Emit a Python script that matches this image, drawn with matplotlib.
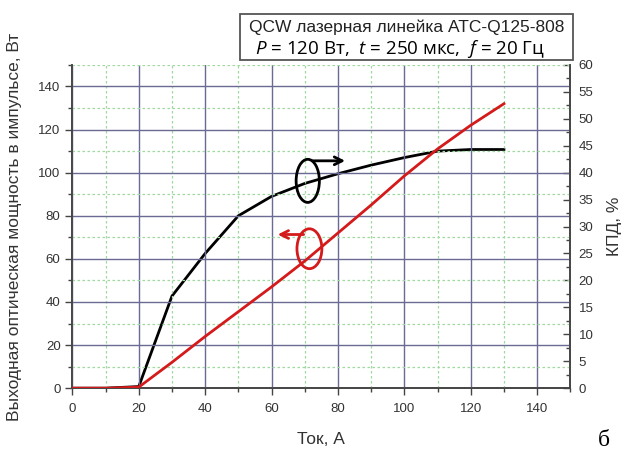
import matplotlib.pyplot as plt
from matplotlib.patches import Ellipse, Rectangle
from matplotlib.ticker import MultipleLocator

plt.rcParams['font.family'] = ['Liberation Sans', 'DejaVu Sans']
plt.rcParams['mathtext.fontset'] = 'custom'
plt.rcParams['mathtext.it'] = 'Open Sans:italic'
plt.rcParams['mathtext.rm'] = 'Open Sans'

# ток, А
current = [0, 10, 20, 30, 40, 50, 60, 70, 80, 90, 100, 110, 120, 130]
# выходная мощность, Вт (левая ось)
power = [0, 0, 0.5, 12, 24, 35.5, 47, 59, 72, 85, 98.5, 111, 122, 132]
# КПД, % (правая ось)
efficiency = [0, 0, 0.3, 17.1, 25, 32, 35.6, 38, 39.8, 41.4, 42.8, 44, 44.3, 44.3]

x_ticks = [0, 20, 40, 60, 80, 100, 120, 140]
y_ticks = [0, 20, 40, 60, 80, 100, 120, 140]
y2_ticks = [0, 5, 10, 15, 20, 25, 30, 35, 40, 45, 50, 55, 60]

fig = plt.figure(figsize=(6.24, 4.54), dpi=100)
ax = fig.add_axes([0.116, 0.145, 0.798, 0.712])
ax2 = ax.twinx()

ax.set_xlim(0, 150)
ax.set_ylim(0, 150)
ax2.set_ylim(0, 60)

# сетка
ax.set_xticks(x_ticks)
ax.set_yticks(y_ticks)
ax.xaxis.set_minor_locator(MultipleLocator(10))
ax.yaxis.set_minor_locator(MultipleLocator(10))
ax.grid(which='major', color='#6a6a95', linewidth=1.0, linestyle='-')
ax.grid(which='minor', color='#9fd99f', linewidth=0.9, linestyle=(0, (2, 2)))
ax.set_axisbelow(True)

ax2.set_yticks(y2_ticks)
ax2.yaxis.set_minor_locator(MultipleLocator(2.5))

tc = '#444444'
ax.tick_params(which='major', direction='out', length=5, width=1, colors=tc,
               labelsize=9.5, labelcolor='#333333')
ax.tick_params(axis='x', which='major', pad=6)
ax.tick_params(which='minor', direction='out', length=3, width=1, colors=tc)
ax2.tick_params(which='major', direction='in', length=5, width=1, colors=tc,
                labelsize=9.5, labelcolor='#333333', pad=6)
ax2.tick_params(which='minor', direction='in', length=3, width=1, colors=tc)

for a in (ax, ax2):
    a.spines['top'].set_visible(False)
    for s in ('left', 'right', 'bottom'):
        a.spines[s].set_color('#444444')
        a.spines[s].set_linewidth(1.2)

# кривые
ax2.plot(current, efficiency, color='black', linewidth=2, zorder=3)
ax.plot(current, power, color='#d41a1a', linewidth=2, zorder=4)
ax.set_zorder(ax2.get_zorder() + 1)
ax.patch.set_visible(False)

# обозначения осей
ax.add_patch(Ellipse((70.9, 96.2), 7, 20, fill=False, edgecolor='black', linewidth=2, zorder=5))
ax.annotate('', xy=(83, 105.5), xytext=(71.5, 105.5),
            arrowprops=dict(arrowstyle='->', color='black', lw=2, mutation_scale=14), zorder=5)
ax.add_patch(Ellipse((71.4, 64.7), 7.5, 18.5, fill=False, edgecolor='#d41a1a', linewidth=2, zorder=5))
ax.annotate('', xy=(61, 71.3), xytext=(70.5, 71.3),
            arrowprops=dict(arrowstyle='->', color='#d41a1a', lw=2, mutation_scale=14), zorder=5)

ax.set_xlabel('Ток, А', fontsize=12.5, color='#333333', labelpad=12)
ax.set_ylabel('Выходная оптическая мощность в импульсе, Вт', fontsize=12.5,
              color='#333333', labelpad=12)
ax2.set_ylabel('КПД, %', fontsize=12.5, color='#333333', labelpad=10)

# заголовок в рамке
fig.patches.append(Rectangle((240 / 624, 1 - 60 / 454), 333 / 624, 46 / 454,
                             transform=fig.transFigure, facecolor='white',
                             edgecolor='#555555', linewidth=1.3, zorder=10))
fig.text(407 / 624, 1 - 27 / 454, 'QCW лазерная линейка АТС-Q125-808', ha='center',
         va='center', fontsize=12.5, color='#222222', zorder=11)
fig.text(400 / 624, 1 - 49 / 454, r'$P$ = 120 Вт,  $t$ = 250 мкс,  $f$ = 20 Гц',
         ha='center', va='center', fontsize=13.5, color='black', zorder=11,
         family=['Open Sans', 'DejaVu Sans'])

fig.text(604 / 624, 1 - 440 / 454, 'б', ha='center', va='center', fontsize=17,
         family=['Liberation Serif', 'DejaVu Serif'])

fig.savefig('out.png', dpi=100)
